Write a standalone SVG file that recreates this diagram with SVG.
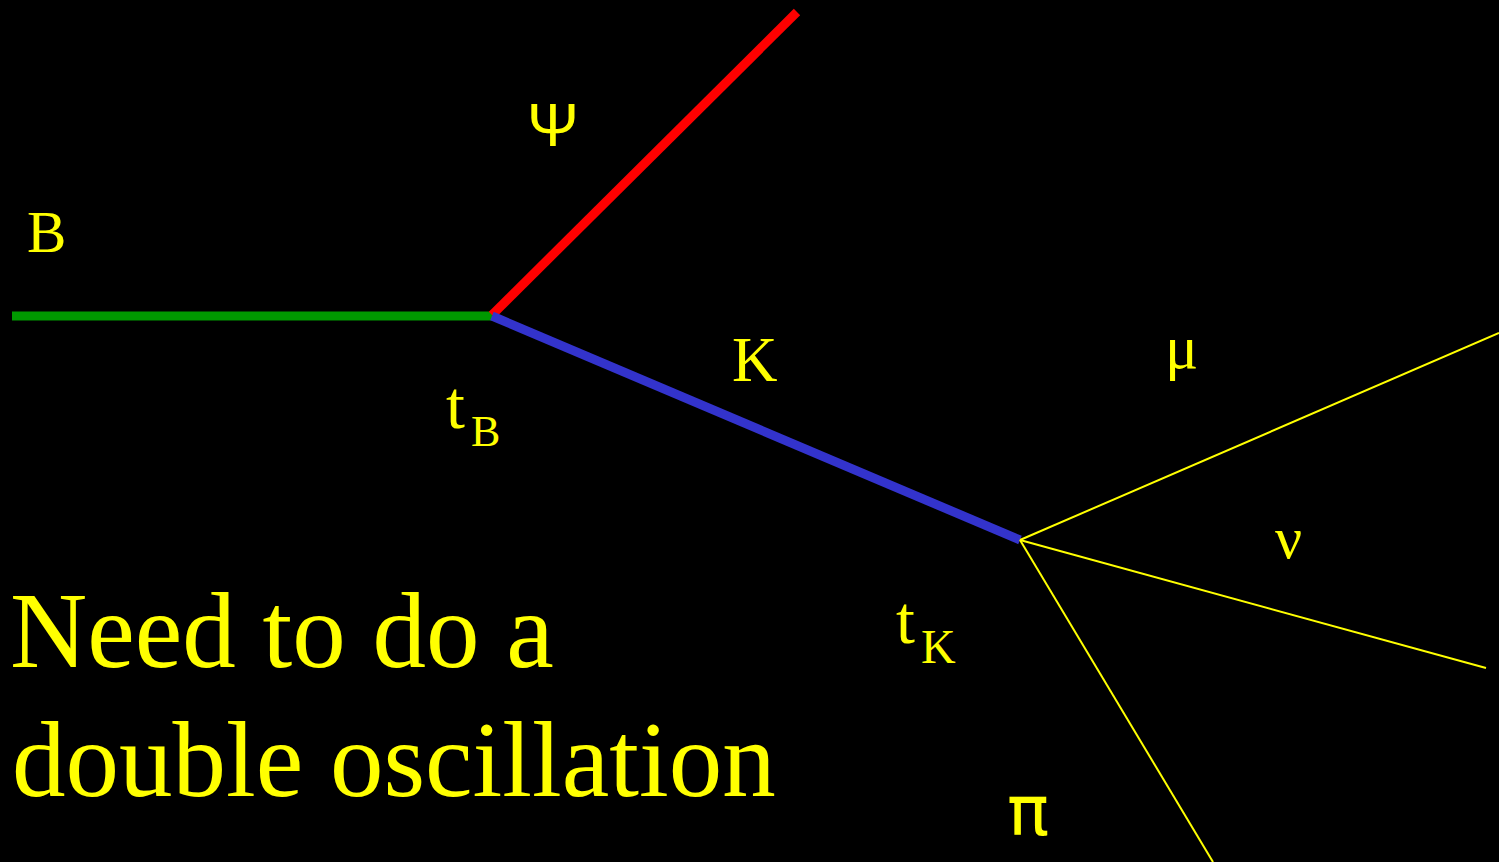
<svg xmlns="http://www.w3.org/2000/svg" width="1499" height="862" viewBox="0 0 1499 862">
<style>
.t{font-family:"Liberation Serif","Times New Roman",serif;fill:#ffff00}
.s{font-family:"Liberation Sans",Arial,sans-serif;fill:#ffff00}
.d{font-family:"DejaVu Sans",sans-serif;fill:#ffff00}
.thick{stroke-width:9;fill:none}
.thin{stroke:#ffff00;stroke-width:2;fill:none}
</style>
<rect width="1499" height="862" fill="#000"/>
<g id="connectors">
<line class="thick" x1="12" y1="316" x2="492" y2="316" stroke="#009900"/>
<line class="thick" x1="492" y1="315" x2="797" y2="12" stroke="#ff0000"/>
<line class="thick" x1="492" y1="316" x2="1020" y2="540" stroke="#3333cc"/>
<line class="thin" x1="1020" y1="540" x2="1499" y2="333"/>
<line class="thin" x1="1020" y1="540" x2="1486" y2="668"/>
<line class="thin" x1="1020" y1="540" x2="1213" y2="862"/>
</g>
<g id="label-B"><text class="t" x="27" y="252" font-size="59">B</text></g>
<g id="label-psi"><text class="s" x="527" y="146" font-size="62">Ψ</text></g>
<g id="label-K"><text class="t" x="732" y="381" font-size="63">K</text></g>
<g id="label-tB"><text class="t" x="446" y="428" font-size="68">t<tspan font-size="44" dx="6" dy="18">B</tspan></text></g>
<g id="label-mu"><text class="t" x="1165" y="368" font-size="62">μ</text></g>
<g id="label-nu"><text class="t" x="1275" y="558" font-size="60">ν</text></g>
<g id="label-tK"><text class="t" x="896" y="643" font-size="68">t<tspan font-size="48" dx="6" dy="20">K</tspan></text></g>
<g id="label-pi"><text class="d" x="1007" y="835" font-size="70">π</text></g>
<g id="caption">
<text class="t" x="10" y="667" font-size="107">Need to do a</text>
<text class="t" x="12" y="796" font-size="107">double oscillation</text>
</g>
</svg>
